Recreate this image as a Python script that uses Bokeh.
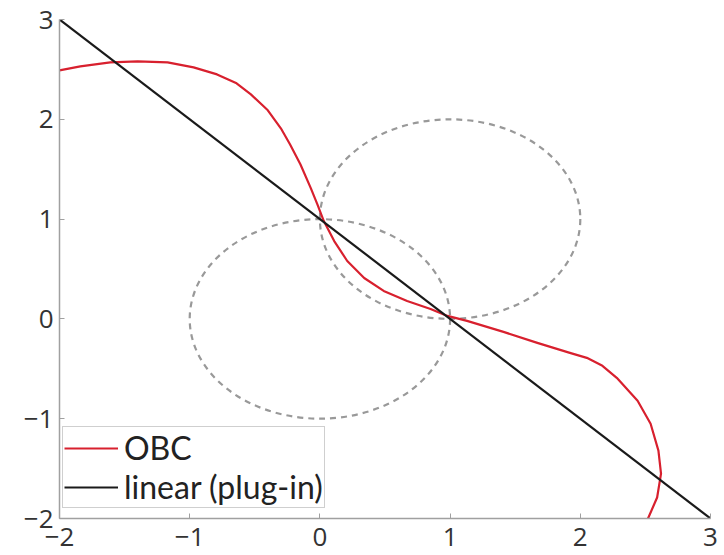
from bokeh.plotting import figure
from bokeh.models import Range1d, FixedTicker, Legend, LegendItem
from bokeh.embed import file_html
from bokeh.resources import INLINE

# ---- data ----
obc_x = [-2.00, -1.84, -1.61, -1.40, -1.17, -0.97, -0.79, -0.64, -0.53, -0.40, -0.30, -0.23, -0.15,
         -0.07, -0.02, 0.03, 0.11, 0.21, 0.34, 0.49, 0.67, 0.85, 0.98, 1.13, 1.41, 1.67, 1.92,
         2.05, 2.17, 2.28, 2.44, 2.54, 2.60, 2.62, 2.59, 2.52]
obc_y = [2.49, 2.53, 2.57, 2.58, 2.57, 2.52, 2.45, 2.36, 2.25, 2.09, 1.91, 1.75, 1.55,
         1.31, 1.15, 0.98, 0.78, 0.58, 0.41, 0.28, 0.18, 0.10, 0.03, -0.02, -0.13, -0.24, -0.34,
         -0.39, -0.47, -0.59, -0.82, -1.05, -1.32, -1.55, -1.79, -2.00]
linear_x = [-2, 3]
linear_y = [3, -2]
circle_cx = [0, 1]
circle_cy = [0, 1]
circle_d = [2, 2]
ticks = [-2, -1, 0, 1, 2, 3]
tick_text = ["\u22122", "\u22121", "0", "1", "2", "3"]
tick_labels = dict(zip(ticks, tick_text))

FONT = "Open Sans"
LEG_FONT = "Lato"

p = figure(frame_width=651, frame_height=499, output_backend="svg", toolbar_location=None,
           x_range=Range1d(-2, 3), y_range=Range1d(-2, 3),
           min_border_left=59, min_border_right=14, min_border_top=19, min_border_bottom=36)
p.outline_line_color = None
p.grid.visible = False
p.background_fill_color = "white"

p.ellipse(x=circle_cx, y=circle_cy, width=circle_d, height=circle_d, fill_color=None,
          line_color="#999999", line_width=2.2, line_dash="6 5")
r_obc = p.line(obc_x, obc_y, line_color="#d8202e", line_width=2.2, line_join="round")
r_lin = p.line(linear_x, linear_y, line_color="#1a1a1a", line_width=2.2)

for ax in (p.xaxis[0], p.yaxis[0]):
    ax.ticker = FixedTicker(ticks=ticks)
    ax.major_label_overrides = tick_labels
    ax.axis_line_color = "#a0a0a0"
    ax.axis_line_width = 1.5
    ax.major_tick_line_color = "#a0a0a0"
    ax.major_tick_in = 5
    ax.major_tick_out = 0
    ax.minor_tick_line_color = None
    ax.major_label_text_font = FONT
    ax.major_label_text_font_size = "26px"
    ax.major_label_text_color = "#333333"
p.xaxis[0].major_label_standoff = 9
p.yaxis[0].major_label_standoff = 6

legend = Legend(items=[LegendItem(label="OBC", renderers=[r_obc]),
                       LegendItem(label="linear (plug-in)", renderers=[r_lin])],
                location=(3, 10), orientation="vertical")
legend.padding = 1
legend.spacing = 0
legend.margin = 0
legend.glyph_width = 54
legend.glyph_height = 30
legend.label_height = 30
legend.label_standoff = 6
legend.label_text_font = LEG_FONT
legend.label_text_font_size = "32px"
legend.label_text_color = "#222222"
legend.border_line_color = "#a0a0a0"
legend.border_line_width = 1.2
legend.background_fill_alpha = 1.0
p.add_layout(legend, "center")

open("out.html", "w").write(file_html(p, INLINE))
